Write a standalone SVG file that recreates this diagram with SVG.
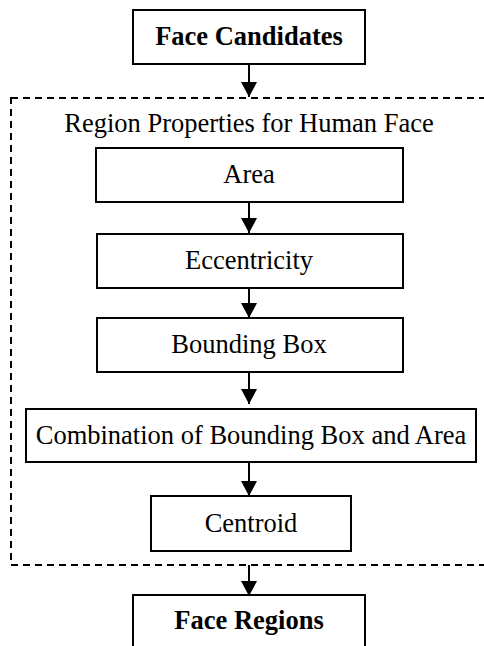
<svg xmlns="http://www.w3.org/2000/svg" width="484" height="646" viewBox="0 0 484 646">
<style>
.box{fill:#fff;stroke:#000;stroke-width:2}
.t{font-family:"Liberation Serif","Times New Roman",serif;font-size:26.5px;text-anchor:middle;fill:#000}
.b{font-weight:bold}
.c{stroke:#000;stroke-width:2;fill:none;marker-end:url(#ah)}
</style>
<defs>
<marker id="ah" markerUnits="userSpaceOnUse" markerWidth="16" markerHeight="16" refX="15" refY="8" orient="auto">
<path d="M0,0 L15,8 L0,16 Z" fill="#000"/>
</marker>
</defs>
<g id="container">
<rect x="11" y="98" width="490" height="467" fill="none" stroke="#000" stroke-width="2" stroke-dasharray="7,5"/>
<text class="t" x="249" y="132">Region Properties for Human Face</text>
</g>
<g id="connectors">
<line class="c" x1="249" y1="64" x2="249" y2="97"/>
<line class="c" x1="249" y1="202" x2="249" y2="233"/>
<line class="c" x1="249" y1="288" x2="249" y2="318"/>
<line class="c" x1="249" y1="372" x2="249" y2="404"/>
<line class="c" x1="249" y1="462" x2="249" y2="496"/>
<line class="c" x1="249" y1="565" x2="249" y2="596"/>
</g>
<g id="face-candidates">
<rect class="box" x="133" y="10" width="232" height="54"/>
<text class="t b" x="249" y="45">Face Candidates</text>
</g>
<g id="area">
<rect class="box" x="96" y="148" width="307" height="54"/>
<text class="t" x="249" y="183">Area</text>
</g>
<g id="eccentricity">
<rect class="box" x="97" y="234" width="306" height="54"/>
<text class="t" x="249" y="269">Eccentricity</text>
</g>
<g id="bounding-box">
<rect class="box" x="97" y="318" width="306" height="54"/>
<text class="t" x="249" y="353">Bounding Box</text>
</g>
<g id="combination">
<rect class="box" x="26" y="409" width="450" height="53"/>
<text class="t" x="251" y="444">Combination of Bounding Box and Area</text>
</g>
<g id="centroid">
<rect class="box" x="151" y="496" width="200" height="55"/>
<text class="t" x="251" y="532">Centroid</text>
</g>
<g id="face-regions">
<rect class="box" x="133" y="595" width="232" height="60"/>
<text class="t b" x="249" y="629">Face Regions</text>
</g>
</svg>
